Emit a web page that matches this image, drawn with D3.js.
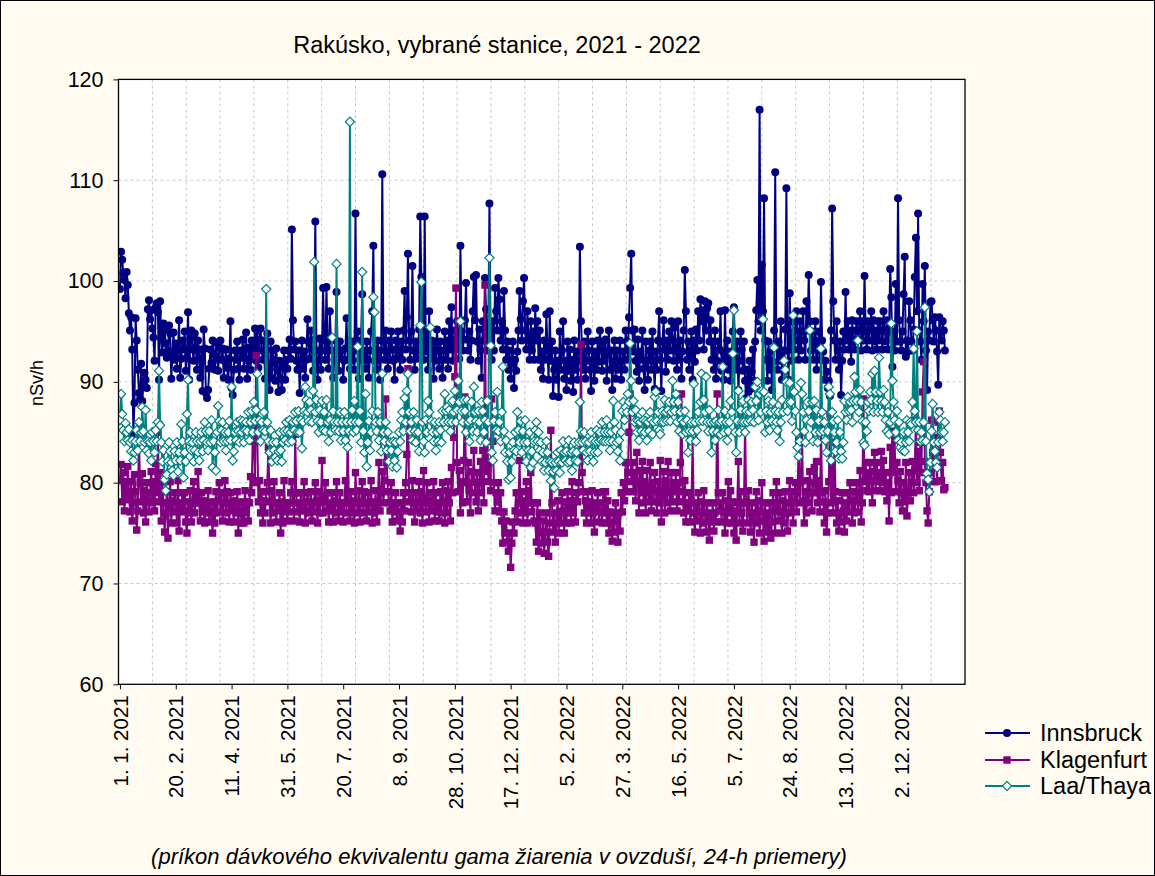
<!DOCTYPE html>
<html>
<head>
<meta charset="utf-8">
<script src="https://cdn.jsdelivr.net/npm/d3@7"></script>
<style>
  body { margin: 0; background: #fffbf0; }
  svg text { font-family: Arial, "Liberation Sans", sans-serif; fill: #000; }
</style>
</head>
<body>
<div id="chart"></div>
<script>
// daily means from 1. 1. 2021
var startDate = new Date(2021, 0, 1);
var seriesNames = ["Innsbruck", "Klagenfurt", "Laa/Thaya"];
var yTicks = [60, 70, 80, 90, 100, 110, 120];
var xTickDates = ["2021-01-01", "2021-02-20", "2021-04-11", "2021-05-31", "2021-07-20", "2021-09-08",
  "2021-10-28", "2021-12-17", "2022-02-05", "2022-03-27", "2022-05-16", "2022-07-05",
  "2022-08-24", "2022-10-13", "2022-12-02"];

var innsbruck = [99.2,102.9,102.1,100.8,100.1,98.3,100.9,99.6,96.8,95.1,
96.4,93.2,84.8,87.9,96.3,94.1,91.2,88.9,88.3,91.8,
88.1,89.7,90.9,90.2,89.4,97.2,98.1,96.2,97.1,95.3,
94.4,92.1,97.4,97.8,96.9,90.2,98.0,94.3,92.9,95.8,
95.2,93.8,92.4,93.1,95.6,94.8,90.3,92.7,94.9,92.2,
93.8,91.3,93.4,96.1,90.4,92.3,94.1,
93.2,95.0,91.1,
92.4,96.9,90.2,94.3,95.1,93.2,92.1,94.8,93.4,91.2,
94.1,92.3,90.4,93.2,89.1,95.2,93.3,88.9,88.4,89.2,
91.3,93.2,91.9,94.1,92.8,91.2,93.9,92.3,91.1,93.4,
94.1,92.2,93.3,90.4,92.1,93.2,91.4,90.2,92.3,96.0,
89.4,88.7,91.2,93.1,92.2,94.0,91.3,90.2,93.1,92.4,
94.2,91.3,93.2,94.9,90.3,92.1,93.4,91.2,94.1,92.3,
93.2,95.3,92.1,95.1,91.4,94.2,95.3,93.1,92.2,94.1,
90.3,93.2,94.8,91.1,89.2,94.0,90.4,93.1,92.2,90.1,
93.3,91.2,89.0,92.1,90.3,89.2,91.4,93.1,90.2,92.2,
91.3,93.1,94.2,92.3,105.1,96.1,93.2,94.0,92.1,91.2,
93.1,88.9,92.2,94.1,91.3,93.0,90.4,92.2,96.2,94.0,
92.3,95.1,93.2,91.1,94.2,105.9,93.1,90.2,92.1,94.3,
91.2,93.1,99.3,
94.1,92.2,99.4,93.1,91.3,97.0,94.2,
93.1,90.4,92.2,94.1,98.9,93.2,91.1,94.0,92.3,93.1,
90.2,92.1,93.3,96.3,92.2,94.1,91.3,93.2,92.1,94.0,
91.2,106.7,93.1,95.0,90.3,92.2,94.1,98.7,92.2,93.1,
91.3,94.0,92.2,90.4,93.1,95.0,97.0,103.5,92.1,93.3,
91.2,94.1,92.3,90.2,93.1,110.6,94.0,92.2,95.1,93.0,
91.3,94.1,92.2,95.0,93.2,92.1,
90.2,94.1,92.3,95.0,
93.1,91.2,94.0,92.2,95.1,99.0,93.2,96.4,102.7,94.1,
92.2,95.0,101.5,93.1,91.2,94.0,92.3,93.1,95.2,106.4,
100.4,94.1,92.2,106.4,93.0,95.1,91.2,97.0,92.3,94.1,
93.2,90.3,94.0,92.1,95.2,93.1,91.3,94.0,92.2,90.4,
93.1,95.0,92.2,94.1,91.3,96.0,93.2,97.4,92.1,94.0,
95.1,93.2,96.0,94.1,92.3,103.5,95.0,93.1,94.2,
96.1,99.8,94.2,93.1,95.0,92.2,94.1,97.0,100.4,96.1,100.6,
94.0,92.1,95.2,93.1,90.4,96.0,94.1,100.3,97.2,93.1,
95.0,107.7,94.1,92.2,96.0,93.1,99.3,97.0,95.1,100.3,
98.2,94.1,96.0,93.2,99.0,95.1,92.2,94.0,91.2,93.1,
90.3,92.1,94.0,89.4,92.2,91.1,93.0,95.1,99.0,96.2,
94.1,98.0,100.3,95.1,93.2,97.0,94.1,92.2,96.0,93.1,95.0,92.2,
97.3,94.1,96.0,92.2,95.1,91.2,93.0,90.3,
94.1,92.2,96.7,93.1,90.2,97.0,92.1,94.0,88.6,91.2,
93.1,90.2,92.1,88.5,95.0,91.2,93.1,96.0,90.3,92.1,
89.2,94.0,91.1,93.2,90.1,92.2,89.0,94.1,91.2,93.0,
90.2,92.1,103.4,96.0,93.1,91.2,94.0,90.3,92.1,95.0,
93.1,91.2,89.1,94.0,92.2,90.1,93.0,91.2,94.1,92.0,
95.1,93.2,91.1,94.0,
92.1,94.2,90.1,93.0,95.1,91.2,
93.1,89.2,92.0,94.1,90.3,93.1,91.2,92.0,94.1,90.2,
92.1,93.0,91.2,95.1,94.0,92.2,96.4,99.3,102.7,95.1,
93.0,95.2,92.1,91.0,94.2,90.1,93.0,92.2,95.1,91.3,
89.2,94.0,92.1,90.2,93.1,94.0,91.2,95.0,92.1,89.3,
93.0,91.2,94.1,97.0,92.2,89.1,94.0,96.1,93.2,91.0,
94.1,92.2,95.0,93.1,96.0,94.2,92.1,
95.4,93.1,91.2,
96.0,92.2,94.1,90.3,93.0,95.1,101.1,97.0,92.2,94.0,
91.2,93.1,95.0,90.2,94.1,92.0,95.2,93.1,97.0,94.1,
98.2,96.0,97.1,93.2,98.0,95.1,97.3,97.8,94.0,96.1,
92.2,94.0,91.2,95.1,90.3,92.1,94.0,93.2,97.0,91.1,
93.0,90.2,97.1,92.0,94.1,91.2,93.0,90.1,92.2,95.0,
97.4,93.1,91.2,94.0,89.2,92.1,95.0,93.2,91.1,94.0,
90.1,88.4,91.2,89.0,92.1,89.3,91.0,93.2,90.1,94.0,
97.1,100.1,96.0,117.0,95.1,101.6,97.0,108.2,94.1,92.2,
90.1,94.0,91.2,93.1,89.2,92.0,95.1,110.8,93.6,91.2,
94.0,92.1,96.0,90.2,93.1,91.0,95.2,109.2,93.1,90.2,
98.8,94.0,92.1,96.0,93.2,95.1,97.0,94.1,92.2,96.0,
93.1,95.0,97.0,94.1,92.2,98.0,95.1,100.6,96.0,93.1,
95.0,92.2,
94.1,96.0,91.2,93.1,95.0,92.2,99.9,94.1,
93.0,90.2,92.1,91.0,89.4,90.1,88.6,95.1,107.2,98.0,
94.1,92.2,96.0,93.1,91.2,94.0,88.7,92.1,95.0,93.2,
98.9,94.1,96.0,93.2,95.1,92.0,96.1,94.0,93.2,95.1,
96.0,94.2,95.1,97.0,93.1,96.0,94.1,100.5,95.0,93.2,
96.0,94.1,95.2,97.0,93.1,96.1,94.0,95.1,93.2,96.0,
94.1,96.0,95.1,93.2,97.0,
95.1,94.0,96.1,93.2,95.0,
101.2,98.4,91.5,95.0,93.1,99.7,94.0,108.2,96.1,94.0,
93.1,95.0,98.7,102.4,92.5,94.1,93.0,98.0,96.1,94.0,
93.1,95.2,100.4,104.3,97.0,106.7,95.1,94.0,92.2,99.7,
96.0,101.5,93.1,89.2,95.0,94.1,97.9,98.0,96.1,94.0,
96.4,95.1,93.0,89.7,96.4,95.0,94.1,96.0,95.1,93.1];

var klagenfurt = [80.2,81.8,78.1,81.0,77.2,80.1,78.3,81.6,79.0,77.1,
80.1,76.2,78.0,80.8,79.1,75.3,77.2,84.4,80.0,78.1,
80.9,77.0,79.2,76.1,80.0,78.2,77.1,79.0,81.1,78.0,
80.1,77.2,81.9,79.0,85.0,78.1,81.0,76.2,80.1,78.0,
75.1,77.0,79.1,74.5,78.0,80.1,76.0,78.2,77.1,79.0,
78.1,76.0,80.2,75.2,78.0,77.1,79.0,
77.2,79.0,76.1,
75.0,78.1,77.0,79.2,76.1,78.0,80.1,77.0,79.1,78.0,
81.1,78.0,76.2,79.0,77.1,78.2,76.0,78.1,77.0,79.2,
76.1,78.0,77.2,75.0,78.1,76.0,79.1,77.0,78.2,80.0,
77.1,79.0,76.2,78.0,80.2,77.0,79.1,78.0,76.1,79.0,
77.2,78.0,76.1,78.2,77.0,79.1,75.0,78.0,77.2,76.0,
78.1,76.0,79.2,77.0,78.1,76.2,78.0,80.6,79.0,85.2,
84.1,80.0,92.6,84.9,78.1,80.2,77.0,79.1,76.0,78.2,
77.0,79.1,80.0,83.5,78.1,76.0,79.2,77.0,80.1,78.0,
76.1,78.0,77.2,79.0,75.0,78.1,76.0,80.2,77.1,78.0,
76.2,78.0,77.1,79.0,80.1,78.0,76.2,84.8,79.0,77.1,
78.0,76.1,79.0,77.2,78.0,80.1,76.0,77.2,79.0,78.1,
77.0,79.1,76.2,78.0,77.1,80.0,78.2,76.0,79.1,77.0,
78.1,82.2,77.0,
78.1,80.0,77.2,79.0,76.1,78.0,77.2,
79.0,76.1,78.2,77.0,80.1,78.0,76.2,79.0,77.1,78.0,
76.1,78.0,80.2,77.0,85.1,78.0,76.2,79.1,77.0,78.2,
76.0,81.0,78.1,77.0,79.2,76.1,78.0,80.1,77.0,79.1,
78.0,76.2,79.0,77.1,78.0,80.2,76.0,78.1,77.0,79.2,
76.1,78.0,82.0,77.2,79.0,81.1,78.0,80.2,88.3,82.0,
79.1,78.0,77.2,80.0,76.1,78.0,
77.1,79.0,76.2,78.0,
77.1,75.2,78.0,76.1,79.0,77.2,80.0,82.8,91.3,78.1,
79.0,77.1,80.2,78.0,76.1,79.0,77.2,78.0,80.1,77.0,
79.1,76.0,81.2,78.0,77.1,80.0,78.2,76.1,79.0,77.2,
78.0,80.1,76.2,79.0,77.1,78.0,76.2,79.1,77.0,80.0,
78.1,76.0,79.2,77.0,80.1,78.0,76.2,81.5,79.0,84.5,
90.5,99.3,82.0,79.1,81.2,77.0,80.1,78.0,82.2,
88.5,80.0,78.1,82.0,79.2,77.0,81.1,80.0,83.2,79.0,78.1,
81.0,77.2,80.0,82.1,79.0,83.2,78.0,99.6,81.1,86.0,
80.1,82.0,79.2,88.3,84.1,80.0,77.2,79.0,78.1,80.0,
77.1,79.0,76.2,74.0,77.1,75.0,76.2,74.1,73.2,75.0,
71.6,74.0,76.1,75.0,77.2,79.0,76.1,78.0,82.2,77.0,
79.1,76.0,78.2,77.0,80.1,76.0,79.2,78.0,81.0,77.1,78.0,76.2,
76.0,74.1,78.0,73.2,77.0,75.1,74.0,76.2,
73.0,75.1,77.0,74.1,72.7,76.0,85.2,78.0,75.1,77.0,
74.1,76.0,78.2,75.0,77.1,76.0,79.0,77.2,75.0,78.1,
76.0,79.1,77.0,78.2,76.0,80.1,77.0,78.2,76.1,79.0,
78.1,80.0,82.1,93.7,81.0,79.1,77.0,78.2,76.0,79.1,
77.0,78.1,76.0,79.2,77.0,75.1,78.0,77.2,79.0,76.1,
78.0,77.1,76.0,79.1,
77.0,79.1,76.0,78.2,75.0,77.1,
76.0,74.2,77.0,75.1,78.0,76.2,74.1,77.0,75.2,79.0,
77.1,80.0,78.2,82.0,79.1,81.0,85.0,88.8,80.1,82.0,
79.1,81.0,78.2,83.0,80.1,77.0,81.2,79.0,82.1,78.0,
80.1,77.0,81.2,79.0,78.1,82.0,77.2,80.0,78.1,81.0,
79.2,77.0,80.1,78.0,82.2,76.1,79.0,81.1,77.0,80.2,
78.0,82.1,79.0,77.2,81.0,78.1,80.0,
79.1,81.0,77.2,
80.0,78.1,82.0,88.8,79.1,77.0,80.2,76.1,78.0,77.2,
79.0,76.1,78.2,84.2,77.0,75.1,78.0,76.2,79.0,77.1,
75.0,78.1,76.0,79.2,77.0,75.1,78.0,76.2,74.3,77.0,
76.1,78.0,75.2,77.0,76.1,88.8,79.0,77.2,78.0,76.1,
79.0,77.1,75.0,78.2,76.0,80.1,77.0,79.2,76.0,78.1,
75.0,77.2,74.3,78.0,82.1,76.0,79.1,77.0,75.2,78.0,
86.0,78.1,76.0,79.2,77.0,75.1,78.0,76.2,74.1,77.0,
79.1,76.0,78.2,75.0,77.1,80.0,76.2,74.2,78.0,75.1,
77.0,75.2,78.0,74.5,76.1,79.0,77.2,75.0,80.1,78.0,
76.2,79.0,77.1,75.0,78.2,76.0,79.1,77.0,75.2,78.0,
80.2,77.0,79.1,76.0,78.2,80.0,77.1,79.0,84.2,78.0,
80.1,85.0,78.2,76.0,79.1,77.0,80.2,78.0,81.1,79.0,
77.2,80.0,
81.5,79.0,82.1,78.0,80.2,77.1,85.4,79.0,
78.1,76.0,79.2,75.1,77.0,80.1,86.8,78.0,82.1,77.0,
84.0,79.1,76.0,78.2,75.2,77.0,76.1,79.0,77.2,75.1,
78.0,76.2,79.0,77.1,80.0,78.2,76.0,79.1,77.0,78.2,
80.0,77.1,79.0,81.2,76.1,78.0,88.3,80.1,82.0,79.2,
81.0,79.1,82.0,80.2,78.0,81.1,83.0,79.2,82.0,80.1,
81.0,79.2,83.1,80.0,82.2,
79.1,81.0,78.2,80.0,76.2,
83.5,79.0,85.1,81.0,84.2,79.1,82.0,80.2,78.0,81.1,
79.0,77.2,80.0,78.1,82.0,76.7,79.1,81.0,78.2,80.0,
82.1,79.0,81.2,86.2,80.0,83.1,79.2,84.0,81.0,89.0,
92.0,82.1,80.0,77.2,76.0,79.1,81.0,86.2,83.0,80.1,
84.5,82.0,80.1,86.0,87.1,83.0,80.2,82.0,79.3,79.5];

var laaThaya = [86.2,88.8,86.8,85.2,84.1,85.9,85.0,84.2,85.3,84.0,
83.1,84.2,82.2,83.0,84.1,85.2,83.2,86.0,84.1,85.0,
87.5,85.1,84.0,87.2,83.2,84.1,82.9,84.0,82.2,85.0,
84.1,83.0,85.2,84.1,86.0,91.1,85.7,84.0,82.1,83.2,
80.3,79.2,80.8,82.1,84.0,83.1,82.0,81.2,80.7,83.1,
82.2,84.0,81.1,83.0,82.2,85.8,84.1,
80.5,83.0,82.1,
86.8,90.2,84.1,85.0,83.2,84.0,82.1,83.2,85.0,84.1,
83.0,82.2,84.1,85.0,83.1,84.2,86.0,85.1,84.0,83.2,
85.1,84.0,86.2,81.5,84.1,83.0,81.2,85.0,87.6,86.1,
84.0,85.2,86.0,84.1,85.0,83.2,84.1,85.0,86.1,84.2,
89.5,82.2,83.1,85.0,84.2,86.0,85.1,84.0,86.2,85.0,
86.1,84.0,85.2,86.0,85.1,87.0,84.2,86.0,87.1,85.0,
88.0,86.1,87.2,90.8,85.0,86.2,84.1,86.0,85.2,87.0,
85.1,99.2,86.0,84.1,83.0,85.2,82.1,84.0,83.2,82.5,
84.0,82.2,83.1,85.0,83.2,82.1,84.0,85.1,84.2,86.0,
85.1,84.0,86.2,85.0,84.1,86.0,85.2,87.0,86.1,85.0,
87.1,85.0,86.2,83.4,86.0,87.1,89.5,88.2,87.0,86.1,
88.0,87.2,86.0,89.1,101.9,87.0,88.2,86.1,85.0,87.2,
86.0,88.1,85.2,
87.0,85.1,88.2,86.0,84.1,86.2,85.0,
94.4,87.1,86.0,85.2,101.7,86.0,85.1,87.0,84.2,86.0,
85.1,87.0,84.2,86.0,83.5,85.1,115.8,86.0,87.2,85.0,
88.1,86.0,85.2,93.5,86.0,87.1,84.0,100.9,85.1,83.0,
88.8,81.6,84.0,86.1,83.2,85.0,87.1,98.4,96.9,86.0,
85.1,87.0,84.2,86.0,83.1,90.8,85.0,84.1,86.0,83.2,
85.0,82.1,84.0,83.2,81.6,84.1,
82.2,84.0,81.5,83.1,
85.0,84.1,86.2,87.0,85.1,88.4,86.0,89.1,90.8,87.0,
85.1,86.0,84.2,87.0,85.1,84.0,86.2,85.0,83.1,95.6,
99.9,86.0,84.1,83.0,86.2,85.0,88.1,87.0,95.4,86.1,
85.0,84.1,86.0,83.2,85.0,84.1,86.0,85.2,84.0,87.1,
86.0,88.8,87.1,87.5,86.0,87.2,85.1,86.0,88.1,87.0,
89.1,86.0,87.2,90.1,88.0,96.0,87.1,86.0,88.2,
87.1,85.0,88.2,86.0,84.1,86.2,88.0,85.1,89.5,87.0,86.1,
85.0,87.1,86.0,84.2,88.0,87.1,85.0,86.2,84.0,88.1,
86.0,102.3,93.6,83.0,82.2,86.1,87.0,85.2,89.0,85.1,
86.0,84.1,87.0,91.5,85.1,83.0,84.2,82.1,80.3,83.0,
80.5,82.1,84.0,83.2,85.0,83.1,87.0,85.2,84.0,86.1,
83.0,85.1,84.0,86.2,82.1,84.0,83.2,85.0,81.5,83.1,82.0,84.1,
85.2,86.0,84.1,85.0,83.2,84.0,82.1,83.0,
81.2,82.0,84.1,83.0,81.2,82.1,80.2,82.0,81.1,79.5,
82.0,81.2,83.0,82.1,81.0,83.2,82.0,84.1,83.0,82.2,
83.1,82.0,84.2,82.1,83.0,81.2,83.1,84.0,82.2,83.0,
82.1,84.0,88.0,85.1,84.0,83.2,85.0,84.1,83.0,82.2,
84.0,83.1,85.0,84.2,82.1,83.0,84.1,85.2,83.0,84.1,
85.0,84.2,86.0,84.1,
85.0,84.1,86.2,85.0,84.1,83.2,
85.0,84.1,88.1,86.0,85.2,84.0,83.1,84.2,82.2,85.0,
87.1,88.0,86.2,87.5,87.0,88.8,88.0,93.8,90.1,87.0,
88.1,86.0,87.2,85.0,86.1,84.2,86.0,85.1,87.0,86.2,
85.0,86.1,84.2,86.0,85.1,87.0,86.2,84.8,86.0,88.5,
89.0,86.1,87.0,85.2,84.8,86.0,87.1,86.0,88.2,87.0,
86.1,87.2,88.0,86.1,87.0,90.1,88.0,
87.1,88.8,86.0,
88.0,85.1,87.0,86.2,84.8,86.0,87.1,85.0,86.2,83.0,
85.1,84.2,86.0,85.1,89.8,86.0,84.1,85.2,87.0,86.1,
88.0,90.8,86.1,88.2,87.0,90.5,86.0,85.1,87.2,86.0,
83.0,85.1,86.0,84.2,86.1,85.0,87.2,86.0,84.8,86.1,
91.5,85.0,87.1,86.0,84.2,85.1,86.0,88.1,87.0,92.8,
97.1,85.0,83.0,86.1,89.1,85.0,87.2,86.0,88.1,86.0,
85.0,87.1,86.0,88.2,87.0,86.1,88.0,87.2,86.0,89.5,
88.1,90.0,86.2,88.8,87.0,89.1,96.2,89.0,85.0,87.1,
86.0,88.1,85.2,87.0,86.1,88.0,93.4,87.1,86.0,85.2,
87.0,84.1,86.0,88.2,87.0,92.1,91.2,90.0,87.1,88.0,
89.9,88.0,86.1,96.6,89.0,87.1,85.0,83.5,82.6,84.1,
89.9,88.8,87.0,85.1,84.0,86.2,88.0,87.1,95.1,86.0,
88.0,84.1,
88.1,85.0,87.2,84.0,86.1,85.0,93.3,87.0,
85.1,86.0,84.2,83.0,85.1,89.5,88.8,82.2,87.0,86.1,
85.0,83.1,84.0,86.2,82.4,85.0,83.1,82.4,84.0,88.1,
87.0,86.2,88.5,87.1,88.0,87.2,86.0,88.1,90.5,89.0,
88.1,94.1,87.0,89.2,88.0,86.1,84.0,83.7,86.0,85.1,
88.0,87.1,89.0,88.2,90.8,87.0,91.1,89.0,88.1,87.0,
92.4,89.0,88.1,87.0,89.2,
88.0,86.2,85.1,87.0,84.8,
86.0,95.8,90.1,88.0,86.2,85.0,87.1,84.2,86.0,83.5,
84.0,83.2,85.0,83.1,84.0,86.2,85.0,84.1,86.0,85.8,
88.0,93.3,87.1,86.0,95.0,85.2,86.0,84.1,85.0,84.2,
86.0,97.4,84.1,80.9,80.3,79.1,82.0,85.1,87.8,84.0,
83.1,82.0,81.5,84.0,87.0,86.2,85.0,84.1,85.0,86.0];

var seriesColors = ["#000080", "#800080", "#008080"];

var W = 1155, H = 876;
var plot = { left: 118.5, right: 965, top: 79.4, bottom: 684.3 };

var svg = d3.select("#chart").append("svg")
  .attr("width", W).attr("height", H);

svg.append("rect").attr("x", 0.5).attr("y", 0.5)
  .attr("width", W - 1).attr("height", H - 1)
  .attr("fill", "#fffbf0").attr("stroke", "#000");

var dayMs = 864e5;
function dayDate(i) { return new Date(startDate.getTime() + i * dayMs); }

var x = d3.scaleTime()
  .domain([dayDate(-1.3), dayDate(757)])
  .range([plot.left, plot.right]);
var y = d3.scaleLinear().domain([60, 120]).range([plot.bottom, plot.top]);

svg.append("rect")
  .attr("x", plot.left).attr("y", plot.top)
  .attr("width", plot.right - plot.left).attr("height", plot.bottom - plot.top)
  .attr("fill", "#fff");

// grid: vertical lines split the frame in 25 equal parts
var gw = (plot.right - plot.left) / 25;
svg.append("g").selectAll("line").data(d3.range(1, 25)).enter().append("line")
  .attr("x1", d => plot.left + d * gw).attr("x2", d => plot.left + d * gw)
  .attr("y1", plot.top).attr("y2", plot.bottom)
  .attr("stroke", "#c8c8c8").attr("stroke-dasharray", "3,3");
svg.append("g").selectAll("line").data(yTicks.slice(1, -1)).enter().append("line")
  .attr("x1", plot.left).attr("x2", plot.right)
  .attr("y1", d => y(d)).attr("y2", d => y(d))
  .attr("stroke", "#c8c8c8").attr("stroke-dasharray", "3,3");

// series
var allSeries = [innsbruck, klagenfurt, laaThaya];
var line = d3.line().x((d, i) => x(dayDate(i))).y(d => y(d));

var clip = svg.append("clipPath").attr("id", "clip").append("rect")
  .attr("x", plot.left).attr("y", plot.top)
  .attr("width", plot.right - plot.left).attr("height", plot.bottom - plot.top);

var series = svg.append("g").attr("clip-path", "url(#clip)");

function drawMarker(sel, k) {
  if (k === 0) {
    sel.append("circle").attr("r", 4).attr("fill", seriesColors[0]);
  } else if (k === 1) {
    sel.append("rect").attr("x", -3.7).attr("y", -3.7).attr("width", 7.4).attr("height", 7.4)
      .attr("fill", seriesColors[1]);
  } else {
    sel.append("path").attr("d", "M0,-4.6L4.6,0L0,4.6L-4.6,0Z")
      .attr("fill", "#fff").attr("stroke", seriesColors[2]).attr("stroke-width", 1.2);
  }
}

allSeries.forEach(function(vals, k) {
  var g = series.append("g");
  g.append("path").datum(vals)
    .attr("d", line)
    .attr("fill", "none")
    .attr("stroke", seriesColors[k])
    .attr("stroke-width", 2);
  g.selectAll("g.pt").data(vals).enter().append("g")
    .attr("class", "pt")
    .attr("transform", (d, i) => `translate(${x(dayDate(i))},${y(d)})`)
    .each(function() { drawMarker(d3.select(this), k); });
});

// frame
svg.append("rect")
  .attr("x", plot.left).attr("y", plot.top)
  .attr("width", plot.right - plot.left).attr("height", plot.bottom - plot.top)
  .attr("fill", "none").attr("stroke", "#000").attr("stroke-width", 1.3);

// axes
var fmt = d3.timeFormat("%-d. %-m. %Y");
var xTicks = xTickDates.map(s => d3.timeParse("%Y-%m-%d")(s));
var xAxis = svg.append("g")
  .attr("transform", `translate(0,${plot.bottom})`)
  .call(d3.axisBottom(x).tickValues(xTicks).tickFormat(fmt).tickSize(5).tickPadding(8));
xAxis.select(".domain").remove();
xAxis.selectAll("line").attr("stroke", "#000");
xAxis.selectAll("text")
  .attr("font-size", "20.5px")
  .attr("transform", "rotate(-90)")
  .attr("text-anchor", "end")
  .attr("x", -11).attr("y", 0).attr("dy", "0.35em");

var yAxis = svg.append("g")
  .attr("transform", `translate(${plot.left},0)`)
  .call(d3.axisLeft(y).tickValues(yTicks).tickSize(5).tickPadding(10));
yAxis.select(".domain").remove();
yAxis.selectAll("line").attr("stroke", "#000");
yAxis.selectAll("text").attr("font-size", "21.5px");
svg.selectAll(".tick text").style("font-family", "Arial, 'Liberation Sans', sans-serif");

// titles
svg.append("text").attr("x", 497).attr("y", 53).attr("text-anchor", "middle")
  .attr("font-size", "23.5px").text("Rakúsko, vybrané stanice, 2021 - 2022");
svg.append("text").attr("transform", "translate(43,383) rotate(-90)")
  .attr("text-anchor", "middle").attr("font-size", "18px").text("nSv/h");
svg.append("text").attr("x", 499).attr("y", 864).attr("text-anchor", "middle")
  .attr("font-size", "22px").attr("font-style", "italic")
  .text("(príkon dávkového ekvivalentu gama žiarenia v ovzduší, 24-h priemery)");

// legend
var legendY = [733, 760, 786];
var legend = svg.append("g");
seriesNames.forEach(function(name, k) {
  var lg = legend.append("g").attr("transform", `translate(0,${legendY[k]})`);
  lg.append("line").attr("x1", 985).attr("x2", 1030)
    .attr("stroke", seriesColors[k]).attr("stroke-width", 2);
  drawMarker(lg.append("g").attr("transform", "translate(1007,0)"), k);
  lg.append("text").attr("x", 1040).attr("dy", "0.35em")
    .attr("font-size", "23.5px").text(name);
});
</script>
</body>
</html>
